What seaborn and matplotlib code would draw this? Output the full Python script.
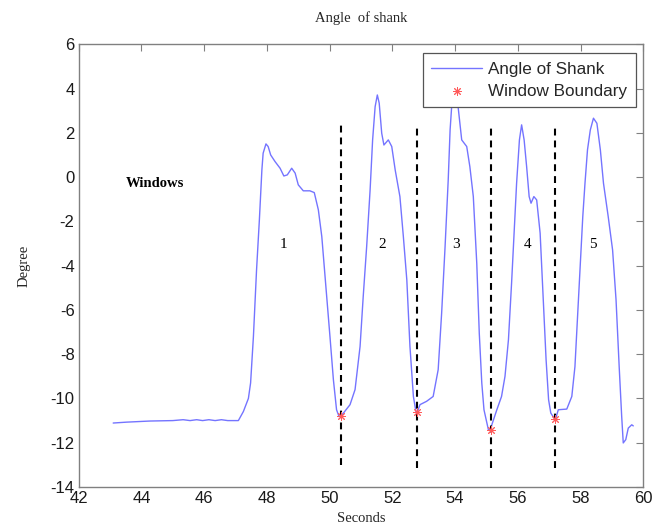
import matplotlib
matplotlib.use("Agg")
import matplotlib.pyplot as plt
import seaborn as sns
import pandas as pd

# Shank angle trace (seconds, degrees)
time_s = [43.10, 43.53, 44.27, 45.00, 45.33, 45.55, 45.76, 45.95, 46.15, 46.35,
          46.55, 46.75, 47.09, 47.25, 47.41, 47.48, 47.57, 47.67, 47.76, 47.84,
          47.88, 47.97, 48.04, 48.12, 48.26, 48.42, 48.54, 48.65, 48.79, 48.90,
          49.00, 49.16, 49.37, 49.51, 49.64, 49.75, 49.88, 50.01, 50.12, 50.22,
          50.30, 50.35, 50.44, 50.65, 50.81, 50.97, 51.07, 51.18, 51.29, 51.37,
          51.45, 51.52, 51.58, 51.66, 51.73, 51.87, 51.98, 52.09, 52.24, 52.35,
          52.46, 52.56, 52.67, 52.75, 52.80, 52.88, 53.09, 53.30, 53.46, 53.57,
          53.68, 53.78, 53.84, 53.90, 53.97, 54.03, 54.10, 54.21, 54.37, 54.47,
          54.58, 54.69, 54.77, 54.85, 54.92, 55.06, 55.13, 55.17, 55.33, 55.48,
          55.59, 55.70, 55.80, 55.88, 55.96, 56.05, 56.12, 56.20, 56.28, 56.36,
          56.42, 56.51, 56.60, 56.71, 56.81, 56.90, 56.98, 57.05, 57.15, 57.20,
          57.29, 57.56, 57.72, 57.82, 57.93, 58.07, 58.14, 58.22, 58.31, 58.41,
          58.52, 58.63, 58.73, 58.88, 59.02, 59.13, 59.23, 59.31, 59.36, 59.44,
          59.52, 59.63, 59.68]
angle_deg = [-11.11, -11.07, -11.02, -11.00, -10.96, -11.00, -10.96, -11.00, -10.96, -11.00,
             -10.96, -11.00, -11.00, -10.59, -10.00, -9.30, -7.20, -4.19, -1.93, 0.33,
             1.08, 1.50, 1.38, 1.00, 0.70, 0.40, 0.05, 0.10, 0.40, 0.18,
             -0.35, -0.62, -0.62, -0.70, -1.48, -2.69, -4.94, -7.20, -9.16, -10.51,
             -10.82, -10.80, -10.66, -10.28, -9.60, -7.65, -5.40, -3.14, -0.58, 1.68,
             3.18, 3.71, 3.34, 1.98, 1.45, 1.68, 1.38, 0.32, -0.88, -2.69,
             -4.64, -7.65, -9.91, -10.59, -10.60, -10.28, -10.13, -9.91, -8.70, -6.15,
             -3.14, -0.13, 2.13, 3.40, 4.00, 3.90, 3.11, 1.68, 1.38, 0.47,
             -0.88, -3.89, -7.05, -9.30, -10.51, -11.41, -11.43, -11.19, -10.51, -9.91,
             -9.00, -7.35, -4.79, -2.53, -0.28, 1.68, 2.36, 1.68, 0.47, -0.88,
             -1.18, -0.88, -1.03, -2.53, -5.54, -8.25, -10.06, -10.66, -10.88, -10.93,
             -10.51, -10.48, -9.91, -8.56, -5.54, -1.78, -0.28, 1.23, 2.13, 2.66,
             2.43, 1.23, -0.28, -1.78, -3.29, -5.54, -8.56, -10.81, -12.01, -11.86,
             -11.34, -11.19, -11.24]

# Window boundaries found on the trace
boundary_time = [50.35, 52.80, 55.13, 57.20]
boundary_angle = [-10.80, -10.60, -11.43, -10.93]
divider_top = [2.50, 2.27, 2.27, 2.27]
divider_bottom = [-13.00, -13.15, -13.15, -13.15]

# Window numbering
window_names = ["1", "2", "3", "4", "5"]
window_label_x = [48.54, 51.66, 54.02, 56.31, 58.40]
window_label_y = -3.05

trace = pd.DataFrame({"Seconds": time_s, "Degree": angle_deg})
bounds = pd.DataFrame({"Seconds": boundary_time, "Degree": boundary_angle})

sns.set_theme(style="white")
plt.rcParams["font.family"] = ["Liberation Sans", "DejaVu Sans"]
plt.rcParams["axes.unicode_minus"] = False

fig = plt.figure(figsize=(6.52, 5.29), dpi=100)
ax = fig.add_axes([0.1207, 0.0794, 0.8660, 0.8369])

sns.lineplot(data=trace, x="Seconds", y="Degree", ax=ax, color="#7474ff",
             linewidth=1.0, label="Angle of Shank", sort=False)
sns.scatterplot(data=bounds, x="Seconds", y="Degree", ax=ax, color="#ff5a5a",
                marker=(8, 2, 0), s=32, linewidth=0.7, label="Window Boundary",
                zorder=4)

ax.vlines(boundary_time, divider_bottom, divider_top, colors="black",
          linewidth=1.5, linestyles=(0, (3.3, 2.4)), zorder=3)

serif = ["Liberation Serif", "DejaVu Serif"]
ax.text(43.5, -0.3, "Windows", family=serif, fontweight="bold", fontsize=10.5,
        ha="left", va="center", color="black")
for name, x in zip(window_names, window_label_x):
    ax.text(x, window_label_y, name, family=serif, fontsize=11,
            ha="center", va="center", color="black")

ax.set_xlim(42, 60)
ax.set_ylim(-14, 6)
ax.set_xticks(range(42, 61, 2))
ax.set_yticks(range(-14, 7, 2))

ax.set_title("Angle  of shank", family=serif, fontsize=10.5, pad=16)
ax.set_xlabel("Seconds", family=serif, fontsize=10.5, labelpad=4)
ax.set_ylabel("Degree", family=serif, fontsize=10.5, labelpad=14)

for side in ["left", "right", "top", "bottom"]:
    ax.spines[side].set_visible(True)
    ax.spines[side].set_color("#808080")
    ax.spines[side].set_linewidth(1.0)
ax.tick_params(direction="in", length=5, width=0.8, color="#808080",
               top=True, right=True, labelsize=12, labelcolor="#1a1a1a", pad=3)

leg = ax.legend(loc="upper right", bbox_to_anchor=(0.987, 0.980),
                borderaxespad=0, fontsize=12.3, frameon=True, fancybox=False,
                handlelength=3.0, handletextpad=0.35, borderpad=0.5,
                labelspacing=0.4, edgecolor="#555555")
leg.get_frame().set_linewidth(0.9)
leg.get_frame().set_facecolor("white")
leg.get_frame().set_alpha(1.0)
leg.set_zorder(10)

fig.savefig("out.png", dpi=100)
